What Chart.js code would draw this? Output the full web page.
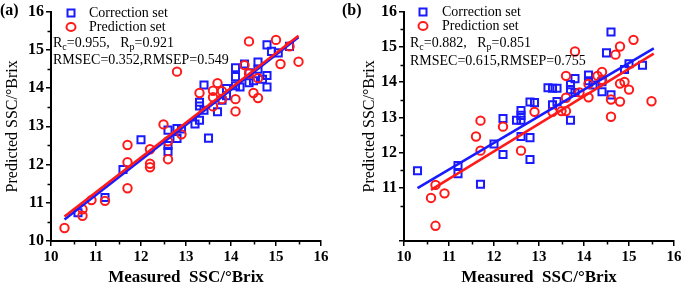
<!DOCTYPE html>
<html>
<head>
<meta charset="utf-8">
<script src="https://cdn.jsdelivr.net/npm/chart.js@4.4.1/dist/chart.umd.min.js"></script>
<style>
  html, body { margin: 0; padding: 0; background: #fff; }
  #wrap { position: relative; width: 685px; height: 286px; }
  canvas { position: absolute; top: 0; }
</style>
</head>
<body>
<div id="wrap">
  <canvas id="chartA" width="340" height="286" style="left:0"></canvas>
  <canvas id="chartB" width="345" height="286" style="left:340px"></canvas>
</div>
<script>
// panel (a): correction set (blue squares) and prediction set (red circles)
var aCalX = [10.6, 11.2, 11.6, 12.0, 12.6, 12.6, 12.6, 12.8, 12.8, 12.9, 13.2, 13.3, 13.3, 13.3, 13.4, 13.4, 13.5, 13.7, 13.8, 13.9, 13.9, 14.1, 14.1, 14.1, 14.2, 14.3, 14.4, 14.4, 14.5, 14.6, 14.6, 14.7, 14.8, 14.8, 14.8, 14.9, 15.05, 15.3];
var aCalY = [10.74, 11.14, 11.87, 12.65, 12.9, 12.5, 12.34, 12.94, 12.68, 12.93, 13.06, 13.16, 13.63, 13.53, 14.08, 13.42, 12.69, 13.38, 13.68, 13.8, 13.99, 14.53, 14.3, 14.06, 14.03, 14.63, 14.14, 14.4, 14.19, 14.68, 14.49, 14.23, 14.33, 14.03, 15.13, 14.96, 14.92, 15.09];
var aPreX = [10.3, 10.7, 10.7, 10.9, 11.2, 11.7, 11.7, 11.7, 12.2, 12.2, 12.2, 12.5, 12.6, 12.6, 12.8, 12.9, 13.3, 13.6, 13.6, 13.6, 13.7, 13.8, 13.8, 14.1, 14.1, 14.3, 14.4, 14.4, 14.5, 14.6, 14.6, 15.0, 15.1, 15.3, 15.5];
var aPreY = [10.34, 10.83, 10.66, 11.07, 11.05, 12.51, 12.06, 11.38, 12.4, 12.02, 11.93, 13.05, 12.14, 12.61, 14.43, 12.79, 13.87, 13.93, 13.76, 13.52, 14.13, 13.92, 13.71, 13.71, 13.39, 14.6, 15.22, 14.38, 13.87, 13.74, 14.26, 15.26, 14.63, 15.09, 14.69];
var aCalLineX = [10.3, 15.5], aCalLineY = [10.56, 15.33];
var aPreLineX = [10.3, 15.5], aPreLineY = [10.64, 15.37];
var aStats = ['0.955', '0.921', '0.352', '0.549'];

// panel (b)
var bCalX = [10.3, 11.2, 11.2, 11.7, 12.0, 12.2, 12.2, 12.5, 12.6, 12.6, 12.6, 12.6, 12.8, 12.8, 12.8, 12.9, 13.2, 13.3, 13.3, 13.4, 13.4, 13.7, 13.7, 13.7, 13.8, 13.8, 14.1, 14.1, 14.2, 14.4, 14.4, 14.5, 14.6, 14.6, 14.9, 15.0, 15.3];
var bCalY = [11.49, 11.64, 11.41, 11.11, 12.25, 12.97, 11.95, 12.92, 13.2, 13.06, 12.92, 12.46, 13.44, 12.43, 11.81, 13.42, 13.84, 13.83, 13.36, 13.83, 13.45, 13.93, 13.79, 12.92, 14.1, 13.71, 14.2, 14.04, 13.92, 13.73, 14.01, 14.83, 15.42, 13.64, 14.36, 14.52, 14.48];
var bPreX = [10.6, 10.7, 10.7, 10.9, 11.6, 11.7, 11.7, 12.2, 12.6, 12.9, 13.3, 13.5, 13.6, 13.6, 13.6, 13.8, 13.9, 14.1, 14.1, 14.3, 14.4, 14.4, 14.6, 14.6, 14.7, 14.8, 14.8, 14.8, 14.9, 15.0, 15.1, 15.5];
var bPreY = [10.72, 11.09, 9.93, 10.85, 12.46, 12.91, 12.06, 12.74, 12.06, 13.16, 13.16, 13.18, 13.18, 14.18, 13.56, 14.87, 13.71, 13.57, 13.95, 14.18, 14.29, 14.07, 13.51, 13.02, 14.78, 15.01, 13.96, 13.45, 14.01, 13.79, 15.2, 13.46];
var bCalLineX = [10.3, 15.55], bCalLineY = [11.0, 14.96];
var bPreLineX = [10.6, 15.55], bPreLineY = [10.95, 14.81];
var bStats = ['0.882', '0.851', '0.615', '0.755'];

var legendNames = ['Correction set', 'Prediction set'];
var xTitle = 'Measured  SSC/\u00b0Brix';
var yTitle = 'Predicted SSC/\u00b0Brix';

var BLUE = '#1a1aff', RED = '#ff1a1a';
var SERIF = '"Liberation Serif", "Times New Roman", serif';

function pts(xs, ys) {
  return xs.map(function(x, i) { return {x: x, y: ys[i]} });
}

// short ticks at the half values
var minorTicks = {
  id: 'minorTicks',
  afterDraw: function(chart) {
    var ctx = chart.ctx, xs = chart.scales.x, ys = chart.scales.y, a = chart.chartArea;
    ctx.save();
    ctx.strokeStyle = '#000';
    ctx.lineWidth = 1.5;
    ctx.beginPath();
    for (var v = Math.floor(xs.min) + 0.5; v < xs.max; v += 1) {
      var px = Math.round(xs.getPixelForValue(v)) + 0.5;
      ctx.moveTo(px, a.bottom); ctx.lineTo(px, a.bottom + 3.5);
    }
    for (var w = Math.floor(ys.min) + 0.5; w < ys.max; w += 1) {
      if (w <= ys.min) continue;
      var py = Math.round(ys.getPixelForValue(w)) + 0.5;
      ctx.moveTo(a.left, py); ctx.lineTo(a.left - 3.5, py);
    }
    ctx.stroke();
    ctx.restore();
  }
};

function rich(ctx, parts, x, y) {
  parts.forEach(function(p) {
    ctx.font = (p.sub ? '10px ' : '14px ') + SERIF;
    ctx.fillText(p.t, x, y + (p.sub ? 4 : 0));
    x += ctx.measureText(p.t).width;
  });
}

var panelText = {
  id: 'panelText',
  afterDraw: function(chart, args, o) {
    var ctx = chart.ctx, a = chart.chartArea;
    ctx.save();
    ctx.fillStyle = '#000';
    ctx.textBaseline = 'middle';
    ctx.font = 'bold 16px ' + SERIF;
    ctx.fillText(o.panel, o.panelX, 11);

    // legend
    ctx.lineWidth = 2;
    ctx.strokeStyle = BLUE;
    ctx.strokeRect(a.left + o.mark - 3.5, o.rows[0] - 3.5, 7, 7);
    ctx.strokeStyle = RED;
    ctx.beginPath();
    ctx.ellipse(a.left + o.mark, o.rows[1], 4.5, 4, 0, 0, Math.PI * 2);
    ctx.stroke();
    ctx.font = '14px ' + SERIF;
    ctx.fillText(legendNames[0], a.left + o.text, o.rows[0]);
    ctx.fillText(legendNames[1], a.left + o.text, o.rows[1]);

    var s = o.stats;
    rich(ctx, [{t: 'R'}, {t: 'c', sub: true}, {t: '=' + s[0] + ',   R'}, {t: 'p', sub: true}, {t: '=' + s[1]}], a.left + o.statX, o.rows[2]);
    rich(ctx, [{t: 'RMSEC=' + s[2] + ',RMSEP=' + s[3]}], a.left + o.statX, o.rows[3]);
    ctx.restore();
  }
};

function makeChart(id, p) {
  return new Chart(id, {
    type: 'scatter',
    plugins: [minorTicks, panelText],
    data: {
      datasets: [
        { type: 'line', data: pts(p.preLineX, p.preLineY), borderColor: RED, borderWidth: 2.5, pointRadius: 0, fill: false, order: 0 },
        { type: 'line', data: pts(p.calLineX, p.calLineY), borderColor: BLUE, borderWidth: 2.5, pointRadius: 0, fill: false, order: 1 },
        { label: legendNames[1], data: pts(p.preX, p.preY), pointStyle: 'circle', pointRadius: 4.2, borderColor: RED, backgroundColor: 'rgba(0,0,0,0)', borderWidth: 2, order: 2 },
        { label: legendNames[0], data: pts(p.calX, p.calY), pointStyle: 'rect', pointRadius: 5, borderColor: BLUE, backgroundColor: 'rgba(0,0,0,0)', borderWidth: 2, order: 3 }
      ]
    },
    options: {
      responsive: false,
      animation: false,
      events: [],
      layout: { padding: { top: 8, right: p.padRight, left: 0, bottom: 0 } },
      plugins: {
        legend: { display: false },
        tooltip: { enabled: false },
        panelText: p.text
      },
      scales: {
        x: {
          min: 10, max: 16,
          border: { display: true, color: '#000', width: 2 },
          grid: { drawOnChartArea: false, drawTicks: true, tickLength: 5, color: '#000', lineWidth: 1.5 },
          ticks: { stepSize: 1, padding: 2, color: '#000', font: { family: SERIF, size: 15, weight: 'bold' } },
          title: { display: true, text: xTitle, color: '#000', padding: { top: 0, bottom: 0 }, font: { family: SERIF, size: 17, weight: 'bold', lineHeight: 1 } },
          afterFit: function(s) { s.height = 45 }
        },
        y: {
          min: p.yMin, max: 16,
          border: { display: true, color: '#000', width: 2 },
          grid: { drawOnChartArea: false, drawTicks: true, tickLength: 5, color: '#000', lineWidth: 1.5 },
          ticks: { stepSize: 1, padding: 2, color: '#000', font: { family: SERIF, size: 16, weight: 'bold' },
            callback: function(v) { return Number.isInteger(v) ? v : '' } },
          title: { display: true, text: yTitle, color: '#000', padding: { top: p.yTitlePad, bottom: 0 }, font: { family: SERIF, size: 16 } },
          afterFit: function(s) { s.width = p.yWidth }
        }
      }
    }
  });
}

makeChart('chartA', {
  calX: aCalX, calY: aCalY, preX: aPreX, preY: aPreY,
  calLineX: aCalLineX, calLineY: aCalLineY, preLineX: aPreLineX, preLineY: aPreLineY,
  yMin: 10, yWidth: 51, yTitlePad: 3, padRight: 19,
  text: { panel: '(a)', panelX: 0, mark: 20, text: 38, statX: 2, rows: [13, 27, 43, 60], stats: aStats }
});
makeChart('chartB', {
  calX: bCalX, calY: bCalY, preX: bPreX, preY: bPreY,
  calLineX: bCalLineX, calLineY: bCalLineY, preLineX: bPreLineX, preLineY: bPreLineY,
  yMin: 9.5, yWidth: 64, yTitlePad: 20, padRight: 11,
  text: { panel: '(b)', panelX: 2, mark: 19, text: 38, statX: 6, rows: [12, 26, 43, 61], stats: bStats }
});
</script>
</body>
</html>
